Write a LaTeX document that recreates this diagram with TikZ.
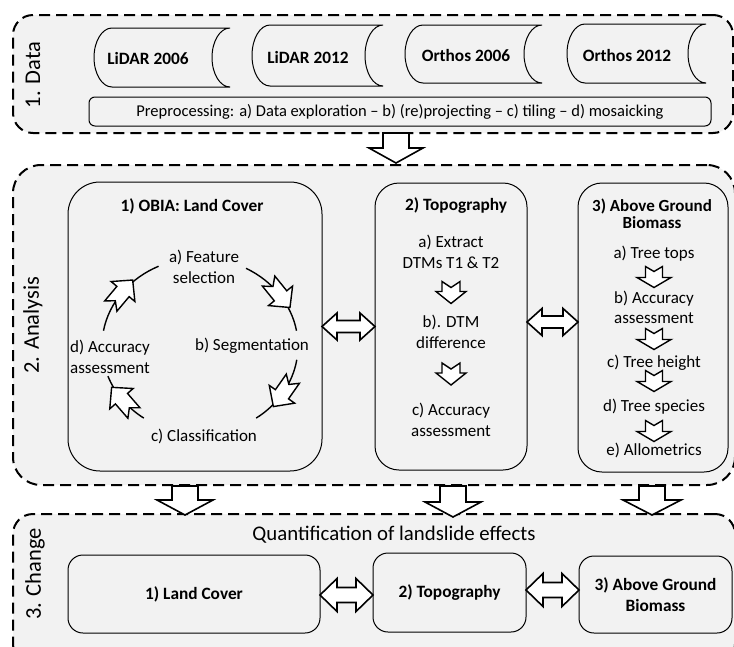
\documentclass[tikz,border=0pt]{standalone}
\usepackage{fontspec}
\setmainfont{Carlito}
\usetikzlibrary{calc}
\definecolor{panelgray}{RGB}{242,242,242}
\definecolor{boxgray}{RGB}{242,242,242}

% stored-data shape: #1 x0, #2 y0, #3 x1, #4 y1, #5 bulge (screen pixel coords)
\newcommand\mystoreshape[5]{%
  \pgfmathsetmacro\sym{-(#2+#4)/2}%
  \pgfmathsetmacro\shh{0.552*(#4-#2)/2}%
  \pgfmathsetmacro\sdk{0.552*#5}%
  \draw[storebox] (#1+#5,-#2) -- (#3,-#2)
    .. controls (#3-\sdk,-#2) and (#3-#5,\sym+\shh) .. (#3-#5,\sym)
    .. controls (#3-#5,\sym-\shh) and (#3-\sdk,-#4) .. (#3,-#4)
    -- (#1+#5,-#4)
    .. controls (#1+#5-\sdk,-#4) and (#1,\sym-\shh) .. (#1,\sym)
    .. controls (#1,\sym+\shh) and (#1+#5-\sdk,-#2) .. (#1+#5,-#2) -- cycle;}

% down block arrow: #1 top coord, #2 bottom coord, #3 shaft half, #4 head half, #5 head length
\newcommand\mydownblk[5]{%
  \draw[blk] let \p1=(#1), \p2=(#2) in
    (\x1-#3,\y1) -- (\x1+#3,\y1) -- (\x1+#3,\y2+#5) -- (\x1+#4,\y2+#5) -- (\x1,\y2)
    -- (\x1-#4,\y2+#5) -- (\x1-#3,\y2+#5) -- cycle;}

% double block arrow: #1 left coord, #2 right coord, #3 shaft half, #4 head half, #5 head length
\newcommand\mydblblk[5]{%
  \draw[blk] let \p1=(#1), \p2=(#2) in
    (\x1,\y1) -- (\x1+#5,\y1+#4) -- (\x1+#5,\y1+#3) -- (\x2-#5,\y1+#3) -- (\x2-#5,\y1+#4)
    -- (\x2,\y1) -- (\x2-#5,\y1-#4) -- (\x2-#5,\y1-#3) -- (\x1+#5,\y1-#3) -- (\x1+#5,\y1-#4) -- cycle;}

% notched arrow: #1 centre, #2 angle, #3 L, #4 shaft w, #5 head W, #6 head length, #7 notch
\newcommand\mynotcharr[7]{%
  \begin{scope}[shift={(#1)}, rotate=#2]
    \draw[notcharr] (-#3/2,#4/2) -- (#3/2-#6,#4/2) -- (#3/2-#6,#5/2) -- (#3/2,0)
      -- (#3/2-#6,-#5/2) -- (#3/2-#6,-#4/2) -- (-#3/2,-#4/2) -- (-#3/2+#7,0) -- cycle;
  \end{scope}}

\begin{document}
\begin{tikzpicture}[x=1pt,y=1pt,
  panel/.style={draw=black, line width=2pt, dash pattern=on 11pt off 6pt, fill=panelgray, outer sep=0pt, inner sep=0pt},
  box/.style={draw=black, line width=1pt, fill=boxgray, inner sep=0pt, outer sep=0pt},
  storebox/.style={draw=black, line width=1pt, fill=boxgray},
  txt/.style={font=\fontsize{17}{20.5}\selectfont, align=center, inner sep=0pt},
  btxt/.style={font=\fontsize{17.3}{20.5}\selectfont\bfseries, align=center, inner sep=0pt},
  lbl/.style={font=\fontsize{22.5}{26}\selectfont, rotate=90, inner sep=0pt},
  blk/.style={draw=black, line width=1.6pt, fill=white, line join=miter},
  notcharr/.style={draw=black, line width=1.4pt, fill=white, line join=miter},
  cycline/.style={draw=black, line width=1.4pt},
]
\useasboundingbox (0,0) rectangle (734,-646);
\clip (0,0) rectangle (734,-646);

% ---------- panels ----------
\node[panel, rounded corners=20pt, anchor=north west, minimum width=720pt, minimum height=118pt] (datap) at (13,-15) {};
\node[panel, rounded corners=28pt, anchor=north west, minimum width=722pt, minimum height=320pt] (anap) at (13,-165) {};
\node[panel, rounded corners=20pt, anchor=north west, minimum width=722pt, minimum height=150pt] (chgp) at (13,-514) {};

\node[lbl] (l1) at (33,-75) {1. Data};
\node[lbl] (l2) at (33,-325) {2. Analysis};
\node[lbl] (l3) at (35,-574) {3. Change};

% ---------- data ----------
\mystoreshape{94}{28}{230}{87}{18}
\mystoreshape{252}{25}{383}{86}{18}
\mystoreshape{405}{25}{542}{83}{18}
\mystoreshape{567}{24}{706}{83}{18}
\node[btxt] (lid06) at (148,-58) {LiDAR 2006};
\node[btxt] (lid12) at (308,-57) {LiDAR 2012};
\node[btxt] (ort06) at (466,-55) {Orthos 2006};
\node[btxt] (ort12) at (627,-55) {Orthos 2012};

\node[box, rounded corners=6pt, anchor=north west, minimum width=622pt, minimum height=29pt] (prep) at (89,-97) {};
\node[txt, font=\fontsize{16.5}{20}\selectfont] (preptxt) at (prep.center) {Preprocessing: a) Data exploration -- b) (re)projecting -- c) tiling -- d) mosaicking};

% ---------- analysis ----------
\node[box, rounded corners=32pt, anchor=north west, minimum width=254pt, minimum height=289pt] (obia) at (68,-182) {};
\node[box, rounded corners=24pt, anchor=north west, minimum width=152pt, minimum height=287pt] (topo) at (375,-183) {};
\node[box, rounded corners=24pt, anchor=north west, minimum width=150pt, minimum height=289pt] (agb) at (578,-183) {};

\node[btxt] (obiat) at (192,-206) {1) OBIA: Land Cover};
\node[txt] (fa) at (204,-267) {a) Feature\\selection};
\node[txt] (fb) at (252,-346) {b) Segmentation};
\node[txt] (fc) at (204,-436) {c) Classification};
\node[txt] (fd) at (110,-357) {d) Accuracy\\assessment};

\coordinate (cyc) at (200,-346);
\draw[cycline] ([shift={(170:98 and 88)}]cyc) arc[start angle=170, end angle=115, x radius=98, y radius=88];
\draw[cycline] ([shift={(62:98 and 88)}]cyc) arc[start angle=62, end angle=10, x radius=98, y radius=88];
\draw[cycline] ([shift={(-9:98 and 88)}]cyc) arc[start angle=-9, end angle=-55, x radius=98, y radius=88];
\draw[cycline] ([shift={(-125:98 and 88)}]cyc) arc[start angle=-125, end angle=-160, x radius=98, y radius=88];
\mynotcharr{$(cyc)+(143:98 and 88)$}{50}{34}{16}{31}{15}{7}
\mynotcharr{$(cyc)+(36:98 and 88)$}{-51}{34}{16}{31}{15}{7}
\mynotcharr{$(cyc)+(-32:98 and 88)$}{-125}{34}{16}{31}{15}{7}
\mynotcharr{$(cyc)+(-142:98 and 88)$}{131}{34}{16}{31}{15}{7}

\node[btxt] (topot) at (456,-206) {2) Topography};
\node[txt] (ta) at (451,-252) {a) Extract\\DTMs T1 \& T2};
\node[txt] (tb) at (451,-332) {b). DTM\\difference};
\node[txt] (tc) at (451,-420) {c) Accuracy\\assessment};
\mynotcharr{451,-292.5}{-90}{22}{18}{30}{12}{6}
\mynotcharr{451,-374}{-90}{22}{18}{30}{12}{6}

\node[btxt, font=\fontsize{17}{17}\selectfont\bfseries] (agbt) at (652,-214) {3) Above Ground\\Biomass};
\node[txt] (ga) at (654,-254) {a) Tree tops};
\node[txt] (gb) at (654,-307.5) {b) Accuracy\\assessment};
\node[txt] (gc) at (654,-363) {c) Tree height};
\node[txt] (gd) at (654,-407) {d) Tree species};
\node[txt] (ge) at (654,-450) {e) Allometrics};
\mynotcharr{654,-277}{-90}{21}{17}{34}{10}{5}
\mynotcharr{654,-339}{-90}{21}{17}{34}{10}{5}
\mynotcharr{654,-381}{-90}{21}{17}{34}{10}{5}
\mynotcharr{654,-431}{-90}{21}{17}{34}{10}{5}

\mydblblk{obia.east}{topo.west}{6pt}{13.5pt}{15pt}
\mydblblk{$(topo.east)+(0,4.5)$}{agb.west}{6pt}{13.5pt}{15pt}

% ---------- change ----------
\node[font=\fontsize{20.8}{24}\selectfont, inner sep=0pt] (quant) at (394,-535) {Quantification of landslide effects};
\node[box, rounded corners=15pt, anchor=north west, minimum width=252pt, minimum height=78pt] (clc) at (68,-555) {};
\node[box, rounded corners=15pt, anchor=north west, minimum width=153pt, minimum height=79pt] (ctopo) at (373,-553) {};
\node[box, rounded corners=15pt, anchor=north west, minimum width=153pt, minimum height=77pt] (cagb) at (579,-556) {};
\node[btxt] (clct) at (clc.center) {1) Land Cover};
\node[btxt] (ctopot) at (ctopo.center) {2) Topography};
\node[btxt] (cagbt) at (cagb.center) {3) Above Ground\\Biomass};
\mydblblk{$(clc.east)+(0,-1)$}{ctopo.west}{7.5pt}{16.5pt}{17pt}
\mydblblk{$(ctopo.east)+(0,2.5)$}{cagb.west}{7.5pt}{16.5pt}{17pt}

% ---------- block arrows between panels ----------
\coordinate (a1s) at (396,-133); \coordinate (a1e) at (396,-163);
\coordinate (a2s) at (185,-486); \coordinate (a2e) at (185,-515);
\coordinate (a3s) at (453,-486); \coordinate (a3e) at (453,-517);
\coordinate (a4s) at (652,-486); \coordinate (a4e) at (652,-515);
\mydownblk{a1s}{a1e}{13pt}{27pt}{15pt}
\mydownblk{a2s}{a2e}{13pt}{28pt}{15pt}
\mydownblk{a3s}{a3e}{13pt}{28pt}{15pt}
\mydownblk{a4s}{a4e}{13pt}{29pt}{15pt}
\end{tikzpicture}
\end{document}
